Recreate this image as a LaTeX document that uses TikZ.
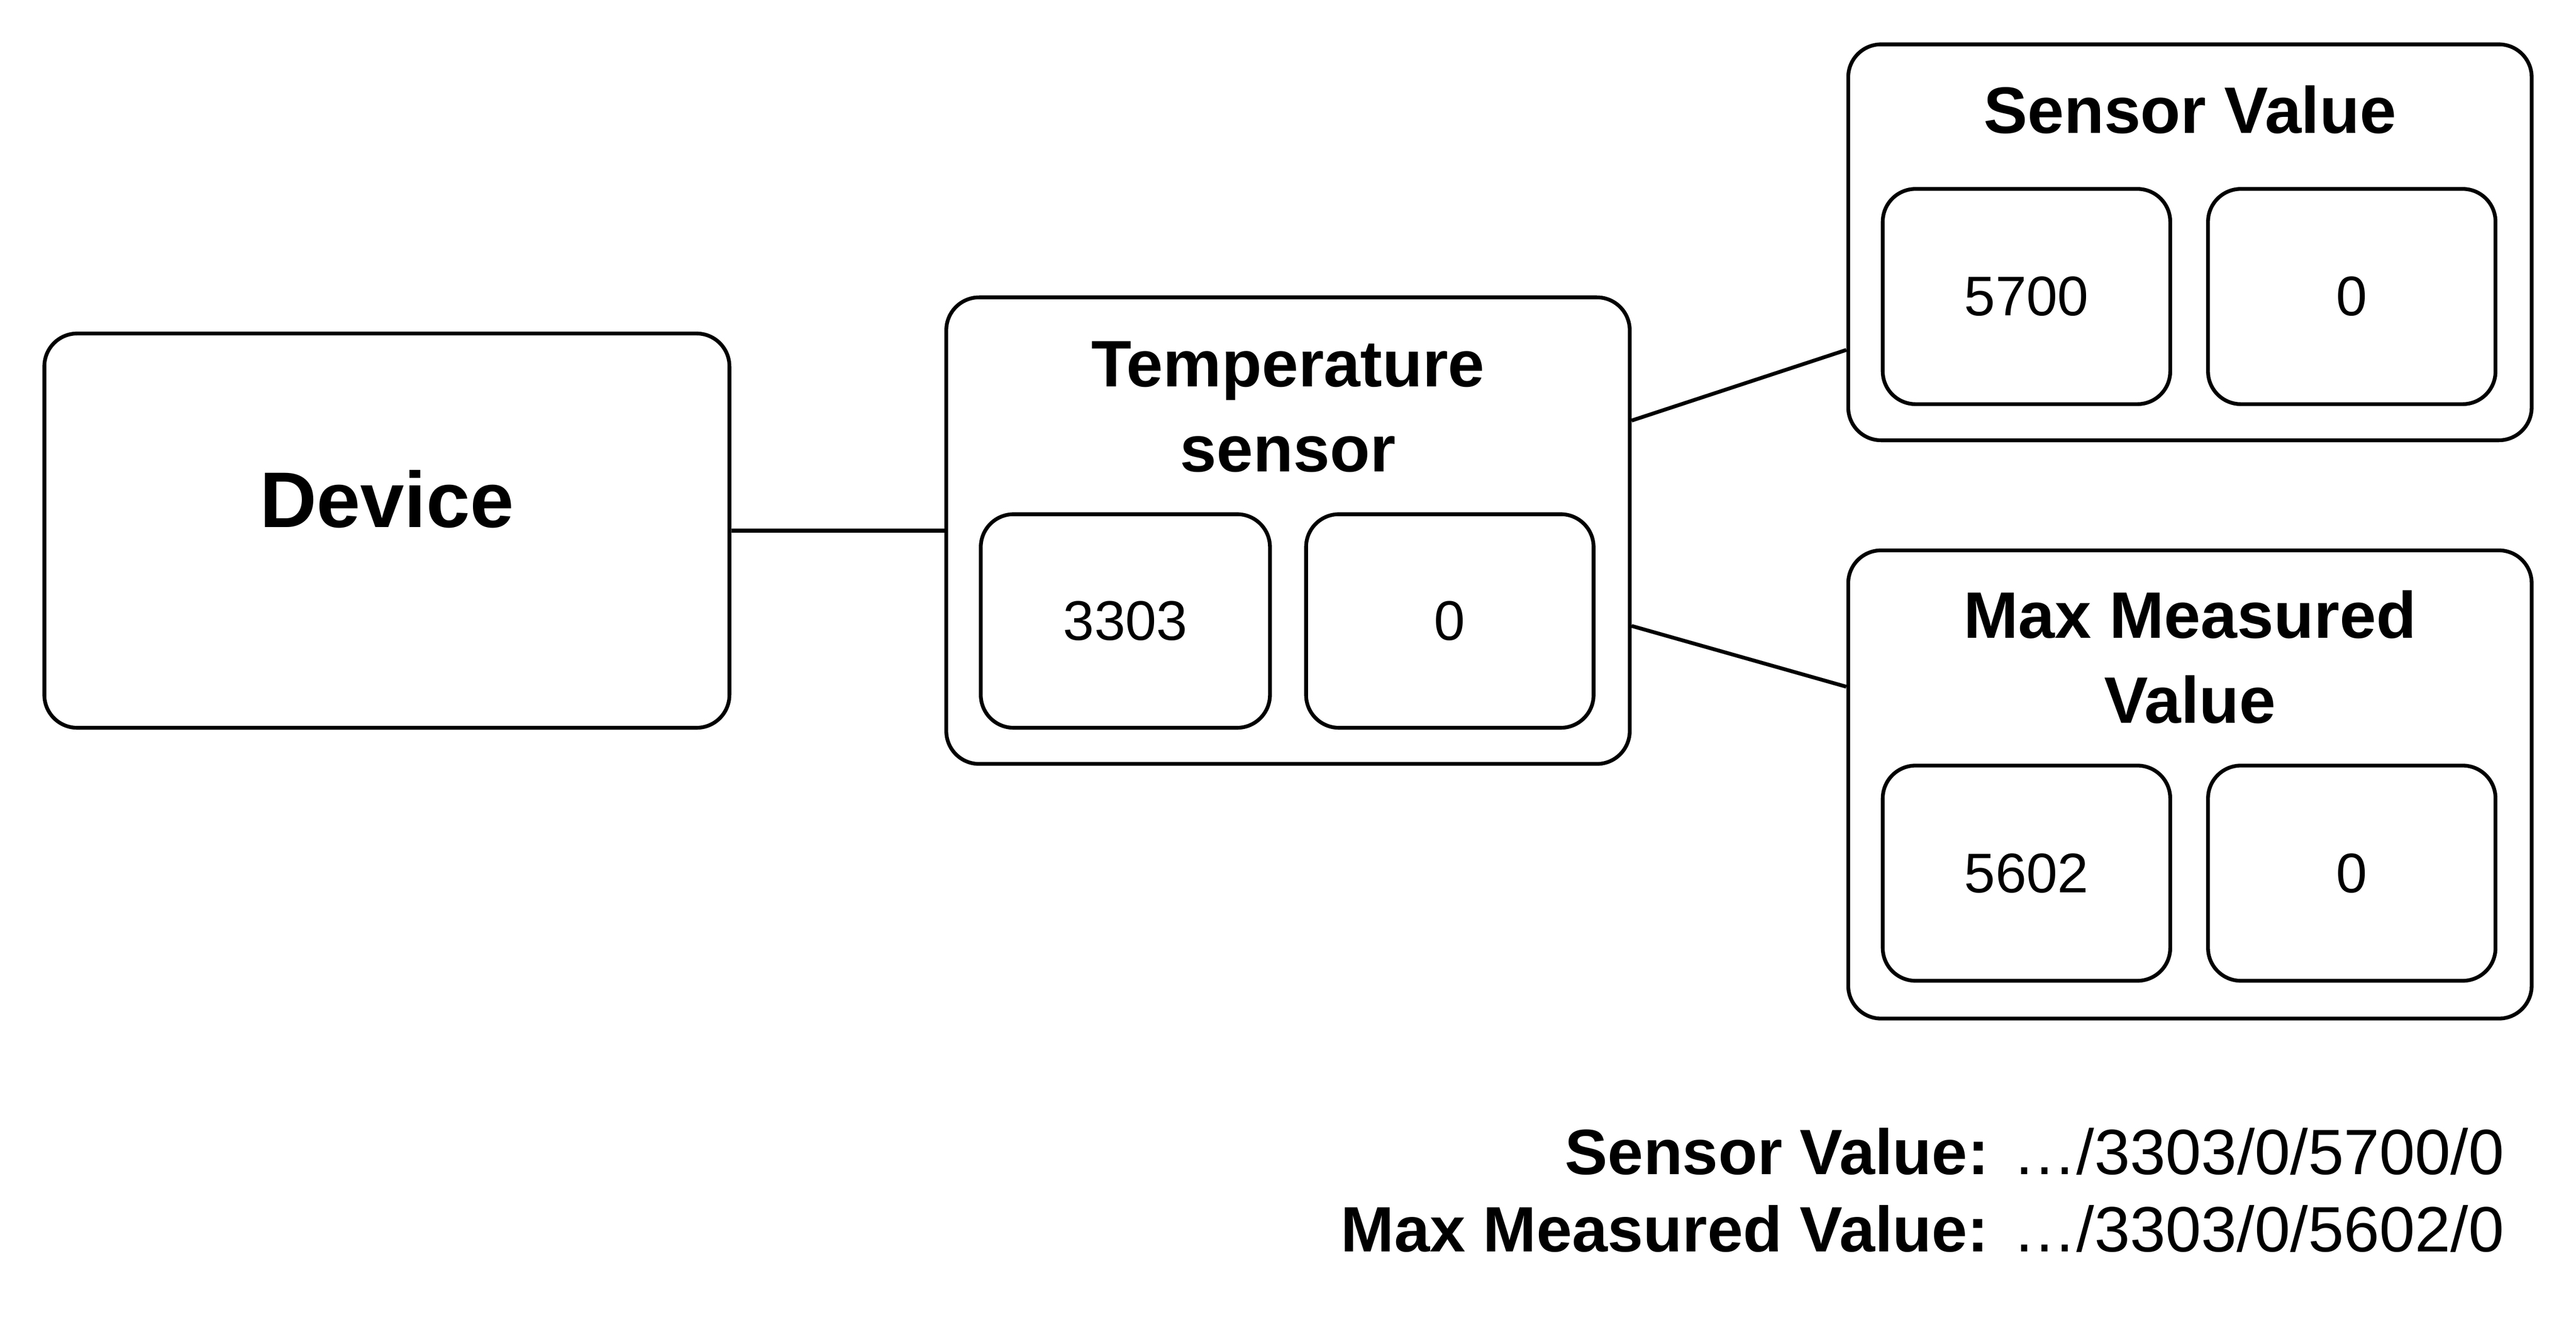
\documentclass[tikz,border=0pt]{standalone}
\usepackage{fontspec}
\setmainfont{Liberation Sans}
\begin{document}
\begin{tikzpicture}[x=1pt,y=-1pt,
  box/.style={draw=black, line width=2.3pt, rounded corners=20pt, inner sep=0pt},
  ttl/.style={font=\fontsize{40}{51.5}\selectfont\bfseries, anchor=base, align=center, inner sep=0pt},
  num/.style={font=\fontsize{34}{40}\selectfont, inner sep=0pt},
  link/.style={line width=2.3pt},
  foot/.style={font=\fontsize{39}{47}\selectfont, anchor=base east, inner sep=0pt}]
\fill[white] (0,0) rectangle (1568,804.6);
\useasboundingbox (0,0) rectangle (1568,804.6);
% Device
\node[box, minimum width=417pt, minimum height=240pt] (dev) at (235.5,323) {};
\node[font=\fontsize{48}{56}\selectfont\bfseries, anchor=base, inner sep=0pt] (devt) at (235.5,321) {Device};
% Temperature sensor
\node[box, minimum width=416pt, minimum height=284pt] (temp) at (784,323) {};
\node[ttl] (tempt) at (784,287) {Temperature\\sensor};
\node[box, minimum width=176pt, minimum height=130pt] (t1) at (685,378) {};
\node[num] (t1t) at (t1.center) {3303};
\node[box, minimum width=175pt, minimum height=130pt] (t2) at (882.5,378) {};
\node[num] (t2t) at (t2.center) {0};
% Sensor Value
\node[box, minimum width=416pt, minimum height=241pt] (sv) at (1333,147.5) {};
\node[ttl] (svt) at (1333,81) {Sensor Value};
\node[box, minimum width=175pt, minimum height=131pt] (s1) at (1233.5,180.5) {};
\node[num] (s1t) at (s1.center) {5700};
\node[box, minimum width=175pt, minimum height=131pt] (s2) at (1431.5,180.5) {};
\node[num] (s2t) at (s2.center) {0};
% Max Measured Value
\node[box, minimum width=416pt, minimum height=285pt] (mv) at (1333,477.5) {};
\node[ttl] (mvt) at (1333,440) {Max Measured\\Value};
\node[box, minimum width=175pt, minimum height=131pt] (m1) at (1233.5,531.5) {};
\node[num] (m1t) at (m1.center) {5602};
\node[box, minimum width=175pt, minimum height=131pt] (m2) at (1431.5,531.5) {};
\node[num] (m2t) at (m2.center) {0};
% connectors
\draw[link] (dev.east) -- (temp.west);
\draw[link] (temp.east |- 0,256) -- (sv.west |- 0,213);
\draw[link] (temp.east |- 0,381) -- (mv.west |- 0,418);
% footer
\node[foot] (f1) at (1524.5,715) {\textbf{Sensor Value:} …/3303/0/5700/0};
\node[foot] (f2) at (1524.5,762) {\textbf{Max Measured Value:} …/3303/0/5602/0};
\end{tikzpicture}
\end{document}
